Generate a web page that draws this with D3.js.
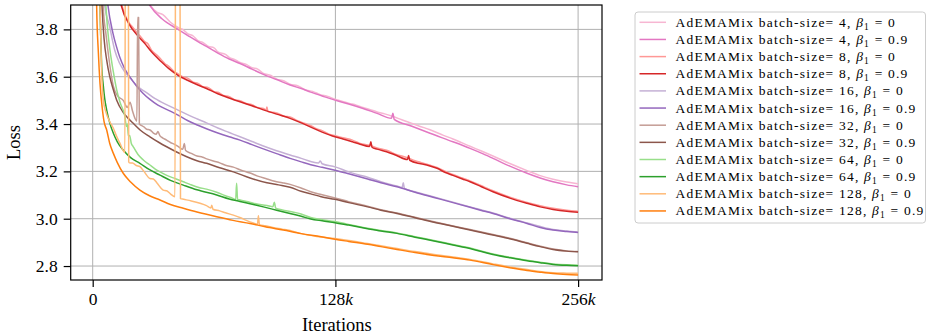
<!DOCTYPE html>
<html>
<head>
<meta charset="utf-8">
<script src="https://cdn.jsdelivr.net/npm/d3@7"></script>
<style>
  html, body { margin: 0; padding: 0; background: #fff; }
  svg { display: block; }
</style>
</head>
<body>
<svg id="chart" width="927" height="335"></svg>
<script>
// Training loss (in k iterations) for AdEMAMix at several batch sizes, beta1 = 0 vs 0.9
const batchSizes = [4, 8, 16, 32, 64, 128];
const beta1Values = ["0", "0.9"];
const xTicksK = [0, 128, 256];
const yTicks = [2.8, 3.0, 3.2, 3.4, 3.6, 3.8];

const pink0 = [[0.3,8.2],[3,5.3],[10,4.55],[20,4.12],[30.5,3.9],[34,3.872],[37,3.862],[41,3.83],[45,3.808],[48,3.797],[50,3.782],[53,3.772],[55.5,3.752],[58,3.745],[61,3.728],[64,3.722],[66,3.705],[70,3.694],[72,3.682],[75,3.672],[77.7,3.66],[81,3.652],[84,3.638],[87,3.632],[90,3.614],[94,3.605],[97,3.59],[101,3.582],[104.1,3.568],[108,3.562],[112,3.545],[116,3.538],[120,3.524],[124,3.517],[127.8,3.505],[131,3.498],[135,3.488],[139,3.48],[142.6,3.47],[146,3.462],[150,3.451],[154,3.443],[158.4,3.432],[163,3.418],[168,3.404],[172,3.392],[177.9,3.376],[185,3.352],[190,3.337],[199,3.306],[205,3.286],[211.1,3.265],[220,3.233],[229.1,3.203],[236,3.182],[242.8,3.167],[250,3.155],[256,3.148]];
const pink9 = [[0.3,8.0],[3,5.2],[10,4.5],[20,4.1],[30.2,3.9],[36.5,3.845],[45,3.80],[50,3.775],[55.5,3.748],[60,3.728],[66,3.70],[72,3.675],[77.7,3.656],[84,3.632],[90,3.61],[97,3.588],[104.1,3.565],[110,3.55],[115,3.535],[122,3.516],[127.8,3.501],[135,3.485],[142.6,3.466],[150,3.445],[157.6,3.424],[158.3,3.446],[159,3.42],[168,3.392],[177.9,3.361],[190,3.325],[199,3.297],[205,3.277],[211.1,3.255],[220,3.222],[229.1,3.192],[236,3.172],[242.8,3.156],[250,3.143],[256,3.135]];

const red0 = [[0.3,8.2],[3,5.1],[8,4.32],[15.5,3.9],[19.5,3.824],[21,3.81],[23,3.79],[25,3.772],[27.4,3.748],[29,3.74],[31,3.712],[34,3.69],[36.2,3.672],[38,3.656],[40,3.645],[43,3.622],[45,3.612],[48,3.598],[50,3.594],[53,3.577],[55.5,3.572],[58,3.558],[61,3.554],[64,3.537],[66,3.534],[69,3.521],[72,3.516],[75,3.502],[77.7,3.499],[81,3.487],[84,3.482],[87,3.47],[90,3.466],[91.4,3.458],[91.9,3.472],[92.4,3.453],[97,3.447],[101,3.433],[104.1,3.43],[108,3.414],[112,3.402],[115,3.393],[118,3.38],[121,3.372],[125,3.356],[127.8,3.351],[132,3.342],[137,3.332],[141,3.318],[146,3.31],[150,3.299],[155,3.289],[160,3.272],[166,3.258],[170,3.245],[173,3.238],[177,3.228],[181.6,3.217],[186,3.2],[190,3.187],[195,3.172],[199,3.16],[205,3.139],[211.1,3.118],[220,3.091],[229.1,3.069],[236,3.055],[242.8,3.044],[250,3.036],[256,3.032]];
const red9 = [[0.3,8.0],[3,5.0],[8,4.3],[15.1,3.9],[19.5,3.818],[23,3.78],[27.4,3.741],[31,3.705],[36.2,3.663],[40,3.635],[45,3.606],[50,3.585],[55.5,3.565],[60,3.55],[66,3.528],[72,3.51],[77.7,3.494],[84,3.477],[90,3.46],[97,3.442],[104.1,3.424],[110,3.405],[115,3.387],[121,3.366],[127.8,3.346],[132,3.337],[137,3.325],[141,3.315],[146,3.305],[146.7,3.325],[147.3,3.302],[150,3.294],[155,3.283],[160,3.268],[166,3.25],[166.6,3.267],[167.2,3.247],[173,3.232],[177,3.225],[181.6,3.213],[186,3.195],[190,3.183],[195,3.168],[199,3.156],[205,3.135],[211.1,3.114],[220,3.087],[229.1,3.065],[236,3.05],[242.8,3.039],[250,3.031],[256,3.027]];

const purple0 = [[0.3,8.2],[2,5.0],[4,4.2],[6.33,3.9],[8.97,3.811],[10,3.77],[11.6,3.713],[14,3.66],[16.9,3.621],[20,3.592],[23.9,3.557],[28,3.535],[32.7,3.508],[36,3.494],[40,3.478],[45,3.459],[50,3.44],[55.5,3.42],[60,3.405],[66,3.383],[72,3.364],[77.7,3.346],[84,3.326],[90,3.307],[97,3.287],[104.1,3.269],[110,3.255],[115,3.242],[119,3.235],[120,3.244],[121,3.232],[127.8,3.219],[135,3.198],[140,3.186],[145,3.175],[152,3.156],[160.5,3.138],[163.2,3.132],[163.8,3.152],[164.4,3.128],[170,3.114],[180,3.092],[190,3.07],[199,3.05],[211.1,3.024],[220,3.002],[229.1,2.982],[242.8,2.954],[250,2.948],[256,2.944]];
const purple9 = [[0.3,8.0],[2,5.2],[5,4.2],[8.07,3.9],[10.7,3.783],[12.5,3.728],[14.2,3.684],[16.5,3.64],[19.5,3.6],[23,3.562],[26.5,3.53],[30,3.505],[34.4,3.48],[40,3.458],[45,3.438],[50,3.415],[55.5,3.395],[60,3.38],[66,3.362],[72,3.346],[77.7,3.332],[84,3.313],[90,3.295],[97,3.275],[104.1,3.255],[110,3.24],[115,3.228],[121,3.217],[127.8,3.205],[135,3.19],[145,3.168],[152,3.152],[160.5,3.135],[170,3.112],[180,3.09],[190,3.068],[199,3.048],[205,3.035],[211.1,3.022],[220,3.0],[229.1,2.98],[236,2.963],[242.8,2.952],[250,2.946],[256,2.942]];

const brown0 = [[0.3,8.2],[2.5,5.0],[5.5,3.9],[7,3.78],[8.5,3.68],[10.9,3.56],[13,3.52],[16.1,3.5],[18.3,3.47],[19.7,3.492],[21,3.455],[22.3,3.424],[23.3,3.412],[23.7,3.85],[24.2,3.85],[24.6,3.40],[25.6,3.394],[27,3.388],[28.5,3.378],[30.2,3.375],[32,3.362],[33.5,3.357],[34.4,3.368],[35.5,3.35],[37,3.341],[39,3.332],[41,3.322],[43,3.315],[45,3.306],[47.5,3.293],[48.3,3.318],[49,3.288],[52,3.276],[55,3.265],[58,3.26],[60.1,3.253],[64,3.243],[67,3.236],[70,3.226],[74.2,3.218],[78,3.206],[83,3.193],[87,3.18],[91.9,3.168],[96,3.158],[100,3.152],[104.1,3.145],[109.9,3.13],[115,3.114],[120.5,3.102],[127.8,3.088],[135,3.072],[145,3.053],[152,3.038],[160.5,3.024],[170,3.006],[180,2.987],[190,2.969],[199,2.954],[211.1,2.933],[220,2.917],[229.1,2.898],[242.8,2.872],[250,2.864],[256,2.861]];
const brown9 = [[0.3,8.0],[2,5.0],[4.9,3.9],[6,3.76],[7.38,3.67],[9,3.6],[10.9,3.545],[12.66,3.501],[16,3.45],[18.6,3.425],[21.4,3.403],[25,3.375],[30.2,3.346],[35,3.322],[39,3.304],[44,3.283],[49.6,3.262],[55,3.245],[60.1,3.234],[67,3.215],[74.2,3.198],[83,3.172],[91.9,3.152],[98,3.143],[104.1,3.133],[109.9,3.116],[115,3.105],[120.5,3.093],[127.8,3.082],[135,3.068],[145,3.05],[152,3.036],[160.5,3.022],[170,3.004],[180,2.985],[190,2.968],[199,2.952],[205,2.942],[211.1,2.931],[220,2.915],[229.1,2.896],[236,2.882],[242.8,2.87],[250,2.863],[256,2.86]];

const green0 = [[0.3,8.2],[3,5.0],[7.0,3.895],[8,3.79],[9.1,3.713],[10.9,3.62],[12.66,3.544],[14.5,3.49],[17.0,3.431],[17.8,3.39],[18.3,3.40],[18.8,3.35],[19.5,3.352],[20.3,3.32],[21.4,3.304],[24,3.27],[26.7,3.248],[30,3.228],[33,3.21],[35.5,3.198],[40,3.18],[44,3.168],[47.8,3.156],[51.3,3.145],[56,3.132],[60,3.125],[65.4,3.112],[70,3.097],[74.2,3.085],[75.4,3.08],[75.9,3.15],[76.4,3.082],[77.7,3.079],[82,3.072],[86,3.063],[91.9,3.056],[95,3.05],[95.8,3.07],[96.5,3.045],[100,3.037],[104.1,3.03],[109.9,3.02],[115,3.005],[120.5,2.997],[127.8,2.988],[135,2.976],[145,2.96],[152,2.95],[160.5,2.94],[170,2.924],[180,2.908],[190,2.891],[199,2.876],[211.1,2.851],[220,2.837],[229.1,2.824],[242.8,2.809],[250,2.805],[256,2.803]];
const green9 = [[0.3,8.0],[2,5.0],[3.85,3.895],[4.3,3.75],[4.75,3.642],[5.5,3.57],[6.3,3.51],[7.38,3.459],[9,3.405],[10.9,3.361],[13,3.325],[16.1,3.29],[20,3.258],[24.9,3.234],[30,3.207],[35.5,3.184],[41,3.162],[47.8,3.142],[55,3.122],[65.4,3.10],[72,3.083],[77.7,3.073],[83,3.063],[90,3.05],[97,3.036],[104.1,3.022],[110,3.01],[115,2.999],[121,2.991],[127.8,2.983],[135,2.973],[145,2.958],[152,2.948],[160.5,2.938],[170,2.922],[180,2.906],[190,2.889],[199,2.874],[205,2.861],[211.1,2.849],[220,2.835],[229.1,2.822],[236,2.814],[242.8,2.807],[250,2.803],[256,2.801]];

const orange0 = [[0.3,8.2],[1.5,5.2],[3.85,3.903],[4.6,3.65],[5.59,3.501],[7,3.45],[9,3.41],[10.9,3.382],[12.5,3.35],[14.4,3.318],[16.5,3.283],[17.0,3.28],[17.3,4.6],[18.7,4.6],[19.0,3.24],[19.3,3.236],[21,3.235],[23,3.225],[24.9,3.22],[27,3.2],[30.2,3.17],[32,3.168],[34,3.15],[37.2,3.121],[39,3.118],[41,3.105],[43.4,3.093],[43.8,4.6],[45.9,4.6],[46.3,3.085],[48,3.082],[52,3.075],[56.6,3.065],[60,3.055],[62.3,3.045],[62.8,3.057],[63.4,3.04],[67,3.033],[70,3.025],[74.2,3.015],[78,3.004],[81,2.993],[84.7,2.982],[86.9,2.977],[87.4,3.013],[87.9,2.975],[91,2.97],[95,2.963],[100,2.956],[104.1,2.95],[110,2.937],[118.1,2.925],[127.8,2.916],[135,2.908],[145,2.895],[152,2.886],[160.5,2.874],[170,2.861],[180,2.849],[190,2.838],[199,2.828],[211.1,2.809],[220,2.796],[229.1,2.785],[242.8,2.772],[250,2.77],[256,2.769]];
const orange9 = [[0.3,8.0],[1.5,5.0],[2.1,3.895],[3,3.7],[3.85,3.572],[5,3.47],[6,3.41],[7.38,3.375],[9,3.318],[10.9,3.276],[13,3.237],[16.1,3.192],[20,3.155],[24.9,3.121],[30,3.097],[35.5,3.079],[41,3.06],[47.8,3.044],[55,3.028],[65.4,3.008],[74,2.993],[83,2.98],[91,2.966],[100.5,2.952],[110,2.937],[120.5,2.924],[127.8,2.913],[135,2.904],[145,2.892],[152,2.882],[160.5,2.87],[170,2.857],[180,2.845],[190,2.835],[199,2.825],[211.1,2.806],[220,2.793],[229.1,2.781],[236,2.774],[242.8,2.768],[250,2.764],[256,2.762]];

const seriesValues = [pink0, pink9, red0, red9, purple0, purple9, brown0, brown9, green0, green9, orange0, orange9];
const seriesColors = ["#f7b6d2", "#e377c2", "#ff9896", "#d62728", "#c5b0d5", "#9467bd",
                      "#c49c94", "#8c564b", "#98df8a", "#2ca02c", "#ffbb78", "#ff7f0e"];

const series = [];
batchSizes.forEach((bs, i) => {
  beta1Values.forEach((b, j) => {
    const k = i * 2 + j;
    series.push({ bs, beta: b, color: seriesColors[k], values: seriesValues[k] });
  });
});

const FONT = "'Liberation Serif', 'DejaVu Serif', serif";
const svg = d3.select("#chart");

const plot = { left: 70.7, right: 602, top: 5, bottom: 280 };
const x = d3.scaleLinear().domain([-11.6, 268.6]).range([plot.left, plot.right]);
const y = d3.scaleLinear().domain([2.741, 3.903]).range([plot.bottom, plot.top]);

svg.append("defs").append("clipPath").attr("id", "plotClip")
  .append("rect")
  .attr("x", plot.left).attr("y", plot.top)
  .attr("width", plot.right - plot.left).attr("height", plot.bottom - plot.top);

// grid
const grid = svg.append("g").attr("stroke", "#b0b0b0").attr("stroke-width", 1);
grid.selectAll("line.gy").data(yTicks).join("line")
  .attr("x1", plot.left).attr("x2", plot.right)
  .attr("y1", d => y(d)).attr("y2", d => y(d));
grid.selectAll("line.gx").data(xTicksK).join("line")
  .attr("y1", plot.top).attr("y2", plot.bottom)
  .attr("x1", d => x(d)).attr("x2", d => x(d));

// curves
const line = d3.line().x(d => x(d[0])).y(d => y(d[1])).curve(d3.curveMonotoneX);
svg.append("g").attr("clip-path", "url(#plotClip)")
  .selectAll("path").data(series).join("path")
  .attr("fill", "none")
  .attr("stroke", d => d.color)
  .attr("stroke-width", 1.5)
  .attr("stroke-linejoin", "round")
  .attr("d", d => line(d.values));

// frame
svg.append("rect")
  .attr("x", plot.left).attr("y", plot.top)
  .attr("width", plot.right - plot.left).attr("height", plot.bottom - plot.top)
  .attr("fill", "none").attr("stroke", "#000").attr("stroke-width", 1.2);

// axes
const yAxis = d3.axisLeft(y).tickValues(yTicks).tickSize(7).tickPadding(6)
  .tickFormat(d3.format(".1f"));
const gy = svg.append("g").attr("transform", `translate(${plot.left},0)`).call(yAxis);
gy.select(".domain").remove();
gy.selectAll(".tick line").attr("stroke", "#000").attr("stroke-width", 1.2);
gy.selectAll(".tick text").attr("font-family", FONT).attr("font-size", 17.5).attr("fill", "#000");

const xAxis = d3.axisBottom(x).tickValues(xTicksK).tickSize(7).tickPadding(6)
  .tickFormat(() => "");
const gx = svg.append("g").attr("transform", `translate(0,${plot.bottom})`).call(xAxis);
gx.select(".domain").remove();
gx.selectAll(".tick line").attr("stroke", "#000").attr("stroke-width", 1.2);
gx.selectAll(".tick text").each(function(d) {
  const t = d3.select(this).text(null)
    .attr("font-family", FONT).attr("font-size", 17.5).attr("fill", "#000");
  if (d === 0) { t.text("0"); return; }
  t.append("tspan").text(String(d));
  t.append("tspan").attr("font-style", "italic").text("k");
});

// axis titles
svg.append("text")
  .attr("x", (plot.left + plot.right) / 2 + 0.5).attr("y", 331)
  .attr("text-anchor", "middle")
  .attr("font-family", FONT).attr("font-size", 18.5)
  .text("Iterations");
svg.append("text")
  .attr("transform", `translate(20,${(plot.top + plot.bottom) / 2}) rotate(-90)`)
  .attr("text-anchor", "middle")
  .attr("font-family", FONT).attr("font-size", 18.5)
  .text("Loss");

// legend
const lg = svg.append("g");
lg.append("rect")
  .attr("x", 635).attr("y", 12).attr("width", 290.5).attr("height", 211)
  .attr("rx", 3).attr("fill", "#fff").attr("fill-opacity", 0.8)
  .attr("stroke", "#cccccc").attr("stroke-width", 1);
const rowH = 17.15;
const rows = lg.selectAll("g.row").data(series).join("g")
  .attr("transform", (d, i) => `translate(0,${22.3 + i * rowH})`);
rows.append("line")
  .attr("x1", 639.5).attr("x2", 666)
  .attr("stroke", d => d.color).attr("stroke-width", 1.5);
const labels = rows.append("text")
  .attr("x", 675.5).attr("y", 4.5)
  .attr("font-family", FONT).attr("font-size", 13.5)
  .attr("fill", "#000");
labels.each(function(d) {
  const t = d3.select(this);
  t.append("tspan").text(`AdEMAMix batch-size= ${d.bs}, `);
  t.append("tspan").attr("font-style", "italic").text("β");
  t.append("tspan").attr("font-size", 9.5).attr("dy", 3).text("1");
  t.append("tspan").attr("dy", -3).text(` = ${d.beta}`);
});
// spread the label glyphs so the widest entry spans the legend box
const widest = d3.max(labels.nodes(), n => n.getComputedTextLength());
const nChars = d3.max(labels.nodes(), n => n.textContent.length);
const spacing = Math.max(0, (249 - widest) / nChars);
labels.attr("letter-spacing", spacing);
</script>
</body>
</html>
